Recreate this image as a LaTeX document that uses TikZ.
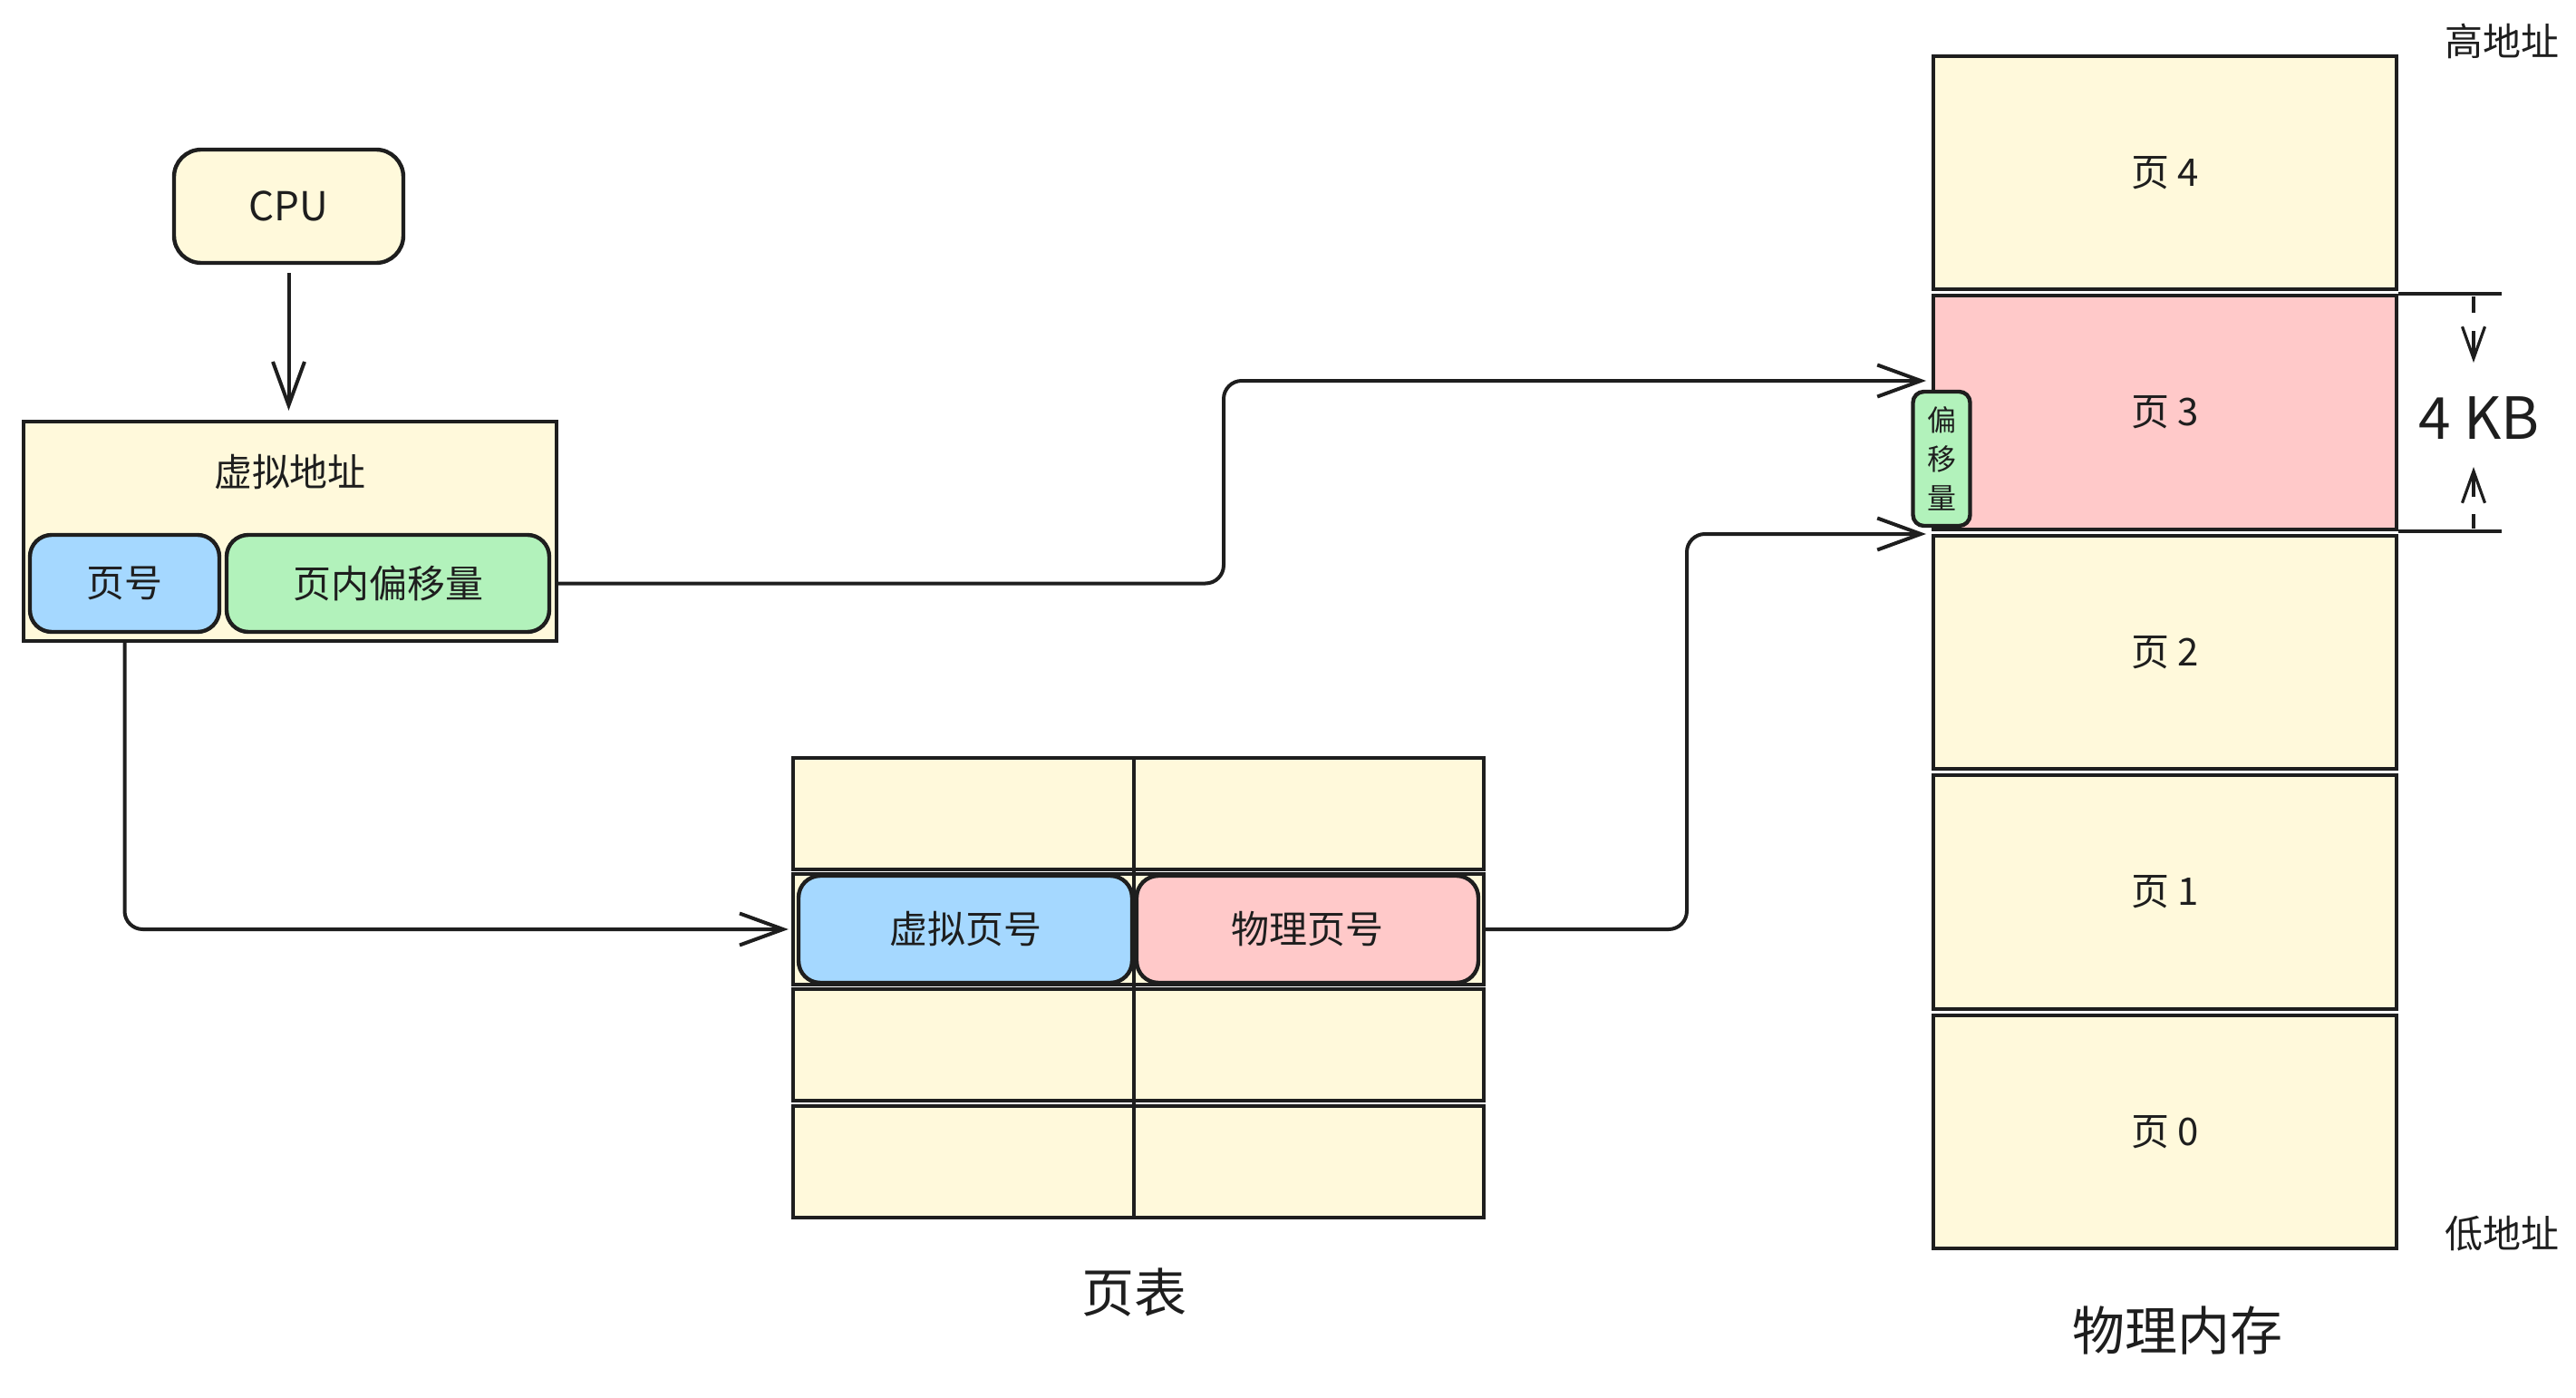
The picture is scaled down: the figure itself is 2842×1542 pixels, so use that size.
\documentclass[tikz,border=0pt]{standalone}
\usepackage{fontspec}
\setmainfont{Noto Sans CJK SC}
\usetikzlibrary{arrows.meta}

\begin{document}
\begin{tikzpicture}[x=0.25pt,y=0.25pt,yscale=-1,xscale=1,
  color={rgb, 255:red, 30; green, 30; blue, 30 },
  box/.style={draw, line width=1.1pt, inner sep=0pt, font=\fontsize{10.5}{12}\selectfont},
  cream/.style={box, fill={rgb, 255:red, 255; green, 249; blue, 219 }},
  bluebox/.style={box, rounded corners=6pt, fill={rgb, 255:red, 165; green, 216; blue, 255 }},
  greenbox/.style={box, rounded corners=6pt, fill={rgb, 255:red, 178; green, 242; blue, 187 }},
  pinkbox/.style={box, rounded corners=6pt, fill={rgb, 255:red, 255; green, 201; blue, 201 }},
  link/.style={line width=1pt, rounded corners=5pt, -{Straight Barb[length=12pt,width=8.75pt]}},
  dimtip/.style={line width=0.8pt, -{Straight Barb[length=8.75pt,width=6.25pt]}}]
\useasboundingbox (0,0) rectangle (2842,1542);

%Shape: Rounded Rect
\draw (318.5,227.5) node [cream, rounded corners=7.5pt, minimum width=63.25pt, minimum height=31.25pt, font=\fontsize{11}{13}\selectfont] (cpu) {CPU};

%Shape: Rectangle
\draw (320,586) node [cream, minimum width=147pt, minimum height=60.5pt] (va) {};
% Text Node
\draw (320,521) node [font=\fontsize{10.5}{12}\selectfont] (valabel) {虚拟地址};
%Shape: Rounded Rect
\draw (137.5,643.5) node [bluebox, minimum width=52.25pt, minimum height=26.75pt] (pn) {页号};
%Shape: Rounded Rect
\draw (428,643.5) node [greenbox, minimum width=89pt, minimum height=26.75pt] (off) {页内偏移量};

%Shape: Rectangle (page table)
\draw (1256,897.5) node [cream, minimum width=190.5pt, minimum height=30.75pt] (ptA) {};
\draw (1256,1025) node [cream, minimum width=190.5pt, minimum height=30.5pt] (ptrow) {};
\draw (1256,1152.5) node [cream, minimum width=190.5pt, minimum height=30.75pt] (ptC) {};
\draw (1256,1281.5) node [cream, minimum width=190.5pt, minimum height=30.75pt] (ptD) {};
%Straight Lines
\draw [line width=1.1pt] (1251,836) -- (1251,1343);
%Shape: Rounded Rect
\draw (1065,1025) node [bluebox, minimum width=92pt, minimum height=29.5pt] (vpn) {虚拟页号};
\draw (1442.5,1025) node [pinkbox, minimum width=94.25pt, minimum height=29.5pt] (ppn) {物理页号};
% Text Node
\draw (1251,1426) node [font=\fontsize{14.5}{16}\selectfont] (ptlabel) {页表};

%Shape: Rectangle (physical memory)
\draw (2388.5,190.5) node [cream, minimum width=127.75pt, minimum height=64.25pt] (p4) {页 4};
\draw (2388.5,455) node [box, fill={rgb, 255:red, 255; green, 201; blue, 201 }, minimum width=127.75pt, minimum height=64.5pt] (p3) {页 3};
\draw (2388.5,719.5) node [cream, minimum width=127.75pt, minimum height=64.25pt] (p2) {页 2};
\draw (2388.5,984) node [cream, minimum width=127.75pt, minimum height=64.5pt] (p1) {页 1};
\draw (2388.5,1248.5) node [cream, minimum width=127.75pt, minimum height=64.25pt] (p0) {页 0};
% Text Node
\draw (2402,1468) node [font=\fontsize{14.5}{16}\selectfont] (memlabel) {物理内存};
% Text Node
\draw (2760,45) node [font=\fontsize{10.5}{12}\selectfont] (high) {高地址};
% Text Node
\draw (2760,1361) node [font=\fontsize{10.5}{12}\selectfont] (low) {低地址};

%Dimension: 4 KB
\draw [line width=1pt] (p3.north east) -- ++(114,0);
\draw [line width=1pt] (p3.south east) -- ++(114,0);
\draw [line width=0.8pt] (2729,327) -- (2729,345);
\draw [dimtip] (2729,365) -- (2729,400);
\draw [dimtip] (2729,548) -- (2729,515);
\draw [line width=0.8pt] (2729,567) -- (2729,583);
% Text Node
\draw (2735,461) node [font=\fontsize{16}{18}\selectfont] (kb) {4 KB};

%Arrows
\coordinate (offtop) at (2125,420);
\coordinate (offbot) at (2125,589);
\draw [link, shorten <=2.25pt, shorten >=2.5pt] (cpu.south) -- (cpu.south |- va.north);
\draw [link] (off.east -| va.east) -| (1350,420) -- (offtop);
\draw [link, shorten >=0.75pt] (pn.south |- va.south) |- (ptrow.west);
\draw [link] (ptrow.east) -| (1861,589) -- (offbot);

%Shape: Rounded Rect (offset)
\draw (2142,506) node [greenbox, rounded corners=3pt, minimum width=15.75pt, minimum height=37pt, align=center, font=\fontsize{8}{10.75}\selectfont] (offmark) {偏\\移\\量};

\end{tikzpicture}
\end{document}
